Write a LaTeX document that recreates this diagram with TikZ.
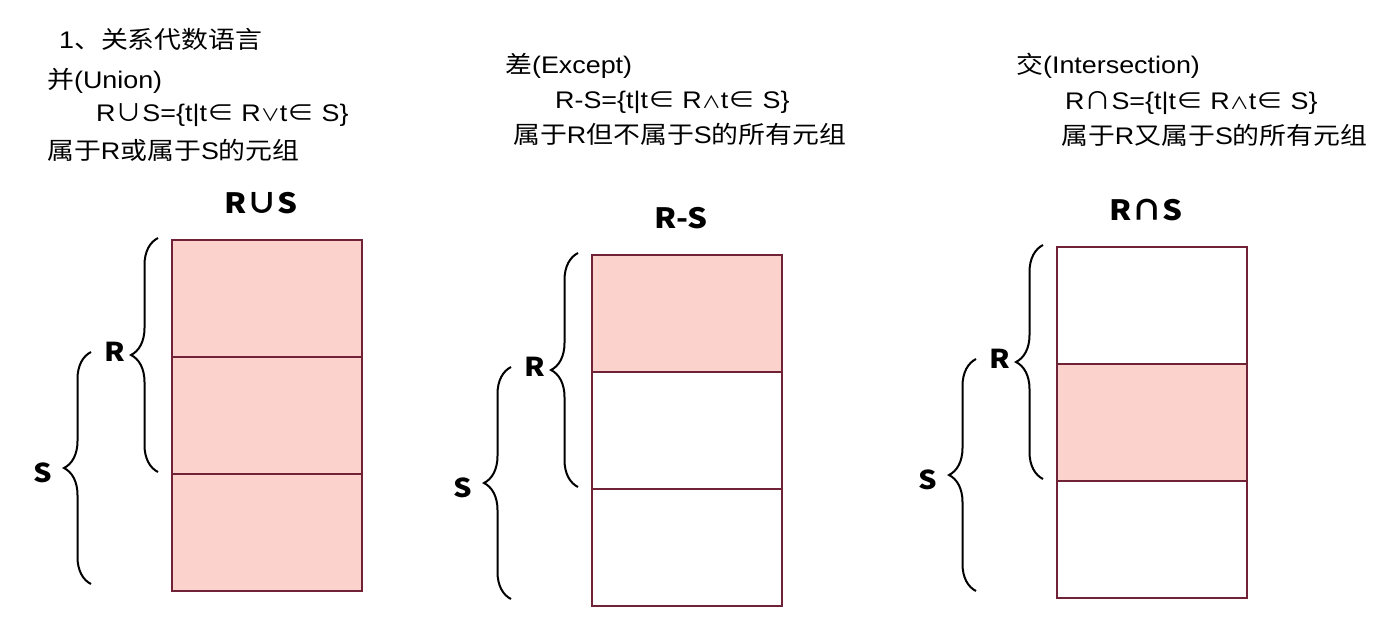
\documentclass[tikz,border=0pt]{standalone}
\usepackage{fontspec}
\setmainfont{Liberation Sans}[FakeStretch=1.12]
\newfontfamily\cjk{Noto Sans CJK SC}[FakeStretch=1.12]
\usetikzlibrary{decorations.pathreplacing}
\definecolor{rosa}{RGB}{252,210,205}
\definecolor{rand}{RGB}{112,34,54}
\def\klein#1{{\cjk\fontsize{17}{20}\selectfont #1}}

\def\tabelle#1#2#3#4#5#6{
	\node[zeile,fill=#3] (#1a) at #2 {};
	\node[zeile,fill=#4,anchor=north] (#1b) at (#1a.south) {};
	\node[zeile,fill=#5,anchor=north] (#1c) at (#1b.south) {};
	\node[titel] (#1t) at ([xshift=-6,yshift=37]#1a.north) {#6};
	\coordinate (#1Ro) at ([xshift=-14,yshift=2]#1a.north west);
	\coordinate (#1Ru) at ([xshift=-14,yshift=2]#1b.south west);
	\coordinate (#1So) at ([xshift=-81,yshift=5]#1b.north west);
	\coordinate (#1Su) at ([xshift=-81,yshift=7]#1c.south west);
	\draw[klammer] (#1Ru) -- (#1Ro);
	\draw[klammer] (#1Su) -- (#1So);
	\node[marke] (#1R) at ([xshift=-57,yshift=5]#1a.south west) {R};
	\node[marke] (#1S) at ([xshift=-129,yshift=1]#1b.south west) {S};
}

\begin{document}
\begin{tikzpicture}[x=1pt,y=-1pt,
	zeile/.style={draw=rand,line width=1.8pt,minimum width=190pt,minimum height=117pt,inner sep=0pt,outer sep=0pt,anchor=north west},
	klammer/.style={decorate,decoration={brace,amplitude=27pt},line width=2pt},
	schrift/.style={anchor=base west,inner sep=0pt,font=\fontsize{24}{28}\selectfont},
	titel/.style={inner sep=0pt,font=\cjk\bfseries\fontsize{28}{32}\selectfont},
	marke/.style={inner sep=0pt,font=\cjk\bfseries\fontsize{26}{30}\selectfont}]
\useasboundingbox (0,0) rectangle (1386,633);
\node[schrift] (kopf) at (59,48) {1{\cjk 、关系代数语言}};
\node[schrift] (vereinigung) at (47,88) {{\cjk 并}(Union)};
\node[schrift] (vformel) at (96,121) {R{\cjk ∪}S=\{t|t{\cjk ∈} R\klein{∨}t{\cjk ∈} S\}};
\node[schrift] (vtext) at (47,159) {{\cjk 属于}R{\cjk 或属于}S{\cjk 的元组}};
\node[schrift] (differenz) at (505,73) {{\cjk 差}(Except)};
\node[schrift] (dformel) at (555,108) {R-S=\{t|t{\cjk ∈} R\klein{∧}t{\cjk ∈} S\}};
\node[schrift] (dtext) at (513,143) {{\cjk 属于}R{\cjk 但不属于}S{\cjk 的所有元组}};
\node[schrift] (schnitt) at (1016,73) {{\cjk 交}(Intersection)};
\node[schrift] (sformel) at (1065,109) {R{\cjk ∩}S=\{t|t{\cjk ∈} R\klein{∧}t{\cjk ∈} S\}};
\node[schrift] (stext) at (1061,144) {{\cjk 属于}R{\cjk 又属于}S{\cjk 的所有元组}};
\tabelle{uni}{(172,240)}{rosa}{rosa}{rosa}{R∪S}
\tabelle{dif}{(592,255)}{rosa}{white}{white}{R-S}
\tabelle{sch}{(1057,247)}{white}{rosa}{white}{R∩S}
\end{tikzpicture}
\end{document}
